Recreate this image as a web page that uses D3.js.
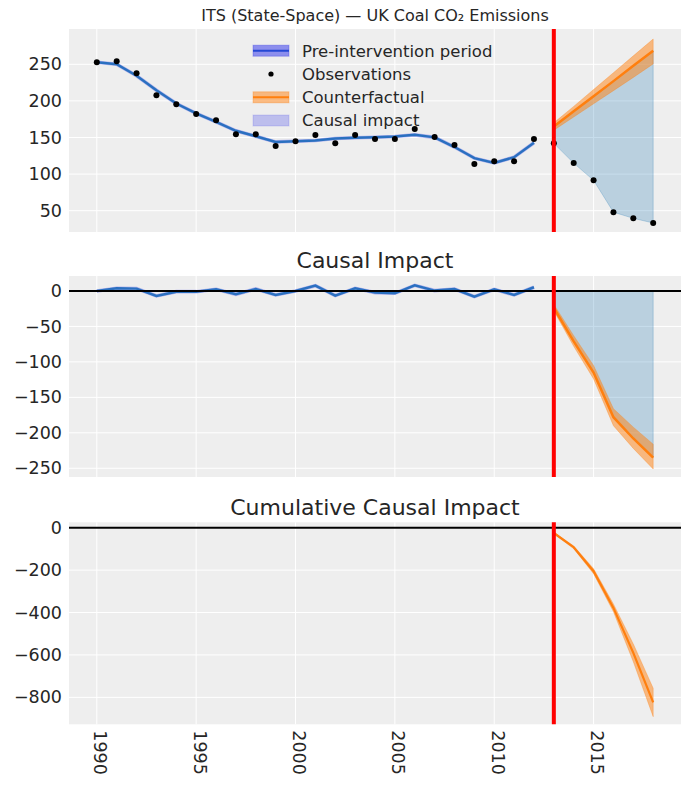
<!DOCTYPE html>
<html><head><meta charset="utf-8">
<script src="https://cdn.jsdelivr.net/npm/d3@7"></script>
<style>
body{margin:0;background:#fff}
svg{display:block}
text{font-family:"DejaVu Sans",sans-serif;fill:#262626}
</style>
</head><body>
<svg id="chart" width="690" height="789"></svg>
<script>
// ---------------- data ----------------
const years = [1990,1991,1992,1993,1994,1995,1996,1997,1998,1999,2000,2001,2002,2003,2004,2005,2006,2007,2008,2009,2010,2011,2012,2013,2014,2015,2016,2017,2018];
const observed = [252.7,254,237.7,207.6,195.4,182,173.5,154.4,154.4,138.4,144.8,153.4,142,153.4,148,148,161.6,150.7,139.8,113.8,117.5,117.5,148,142,115,91.5,48,39.6,33.2];
const preYears = [1990,1991,1992,1993,1994,1995,1996,1997,1998,1999,2000,2001,2002,2003,2004,2005,2006,2007,2008,2009,2010,2011,2012];
const preFit = [252.7,250.2,234.4,214.6,196.4,183,171.2,159.1,151.6,144,144.8,145.9,148.6,149.6,150.3,151.3,153.6,150.2,137,121.8,115.2,123.1,142.8];
const preImpact = [0,3.8,3.3,-7,-1,-1,2.3,-4.7,2.8,-5.6,0,7.5,-6.6,3.8,-2.3,-3.3,8,0.5,2.8,-8,2.3,-5.6,5.2];
const postYears = [2013,2014,2015,2016,2017,2018];
const postObserved = [142,115,91.5,48,39.6,33.2];
const cfMean = [165,186,206.5,227,248,268.5];
const cfLower = [160,178,196,214,232,250.5];
const cfUpper = [170,192.5,215.5,238.5,261.5,284.5];
const impactMean = [-24,-71,-115,-178,-208,-235];
const impactUpper = [-19,-63,-105,-166,-192,-216];
const impactLower = [-28,-78,-124,-190,-222,-251];
const cumMean = [-25,-92,-205,-378,-590,-824];
const cumUpper = [-21,-86,-193,-360,-548,-757];
const cumLower = [-29,-99,-217,-396,-632,-891];
const interventionYear = 2013;
const xTicks = [1990,1995,2000,2005,2010,2015];
const topTicks = [50,100,150,200,250];
const midTicks = [-250,-200,-150,-100,-50,0];
const cumTicks = [-800,-600,-400,-200,0];
const legendLabels = ["Pre-intervention period","Observations","Counterfactual","Causal impact"];
const titles = ["ITS (State-Space) \u2014 UK Coal CO\u2082 Emissions","Causal Impact","Cumulative Causal Impact"];

// ---------------- layout ----------------
const svg = d3.select("#chart");
const L = 69, R = 681;
const x = d3.scaleLinear().domain([1988.6, 2019.4]).range([L, R]);
const panels = [
  {top:29, bottom:232, y: d3.scaleLinear().domain([20.9, 298.2]).range([232, 29]), ticks: topTicks},
  {top:276, bottom:477, y: d3.scaleLinear().domain([-262.3, 21.1]).range([477, 276]), ticks: midTicks},
  {top:522.3, bottom:724.3, y: d3.scaleLinear().domain([-927, 25.5]).range([724.3, 522.3]), ticks: cumTicks}
];
const C0 = "#1f77b4", ORANGE = "#ff7f0e", PURPLE = "#2a2eec", LINEBLUE = "#2a70c0";
const fmt = d3.format("");

panels.forEach((p, i) => {
  const g = svg.append("g");
  g.append("rect").attr("x", L).attr("y", p.top).attr("width", R - L).attr("height", p.bottom - p.top).attr("fill", "#eeeeee");
  g.selectAll(".gx").data(xTicks).join("line")
    .attr("x1", d => x(d)).attr("x2", d => x(d)).attr("y1", p.top).attr("y2", p.bottom)
    .attr("stroke", "#fff").attr("stroke-width", 1);
  g.selectAll(".gy").data(p.ticks).join("line")
    .attr("x1", L).attr("x2", R).attr("y1", d => p.y(d)).attr("y2", d => p.y(d))
    .attr("stroke", "#fff").attr("stroke-width", 1);
  g.selectAll(".ty").data(p.ticks).join("text")
    .attr("x", 62).attr("y", d => p.y(d)).attr("dy", "0.35em")
    .attr("text-anchor", "end").attr("font-size", 17.5)
    .text(d => fmt(d));
  p.g = g;
});

// titles
svg.append("text").attr("x", (L + R) / 2).attr("y", 21).attr("text-anchor", "middle").attr("font-size", 16).text(titles[0]);
svg.append("text").attr("x", (L + R) / 2).attr("y", 268).attr("text-anchor", "middle").attr("font-size", 22).text(titles[1]);
svg.append("text").attr("x", (L + R) / 2).attr("y", 515).attr("text-anchor", "middle").attr("font-size", 22).text(titles[2]);

// x tick labels (bottom only, rotated)
svg.selectAll(".tx").data(xTicks).join("text")
  .attr("transform", d => `translate(${x(d)},${panels[2].bottom + 6}) rotate(90)`)
  .attr("dy", "0.15em").attr("text-anchor", "start").attr("font-size", 17.5)
  .text(d => fmt(d));

const post = postYears.map((yr, i) => ({yr, i}));
const pre = preYears.map((yr, i) => ({yr, i}));

// ---------- panel 1 ----------
{
  const p = panels[0], g = p.g, y = p.y;
  g.append("path").datum(post)
    .attr("d", d3.area().x(d => x(d.yr)).y0(d => y(postObserved[d.i])).y1(d => y(cfMean[d.i])))
    .attr("fill", C0).attr("fill-opacity", 0.25).attr("stroke", C0).attr("stroke-opacity", 0.25);
  g.append("path").datum(post)
    .attr("d", d3.area().x(d => x(d.yr)).y0(d => y(cfLower[d.i])).y1(d => y(cfUpper[d.i])))
    .attr("fill", ORANGE).attr("fill-opacity", 0.5).attr("stroke", ORANGE).attr("stroke-opacity", 0.3);
  g.append("path").datum(post)
    .attr("d", d3.line().x(d => x(d.yr)).y(d => y(cfMean[d.i])))
    .attr("fill", "none").attr("stroke", ORANGE).attr("stroke-width", 2.5);
  const preLine = d3.line().x(d => x(d.yr)).y(d => y(preFit[d.i]));
  g.append("path").datum(pre).attr("d", preLine).attr("fill", "none").attr("stroke", PURPLE).attr("stroke-opacity", 0.3).attr("stroke-width", 3.6);
  g.append("path").datum(pre).attr("d", preLine).attr("fill", "none").attr("stroke", LINEBLUE).attr("stroke-width", 2.5);
  g.selectAll(".obs").data(years).join("circle")
    .attr("cx", d => x(d)).attr("cy", (d, i) => y(observed[i])).attr("r", 3).attr("fill", "#000");
  g.append("line").attr("x1", x(interventionYear)).attr("x2", x(interventionYear)).attr("y1", p.top).attr("y2", p.bottom)
    .attr("stroke", "#ff0000").attr("stroke-width", 4);
  // legend
  const lg = svg.append("g");
  const rows = [50.7, 74, 97.3, 120.5];
  const hx0 = 253, hx1 = 289;
  lg.append("rect").attr("x", hx0).attr("y", rows[0] - 5.5).attr("width", hx1 - hx0).attr("height", 11).attr("fill", PURPLE).attr("fill-opacity", 0.5).attr("stroke", PURPLE).attr("stroke-opacity", 0.3);
  lg.append("line").attr("x1", hx0).attr("x2", hx1).attr("y1", rows[0]).attr("y2", rows[0]).attr("stroke", "#2447d4").attr("stroke-width", 2);
  lg.append("circle").attr("cx", (hx0 + hx1) / 2).attr("cy", rows[1]).attr("r", 2.6).attr("fill", "#000");
  lg.append("rect").attr("x", hx0).attr("y", rows[2] - 5.5).attr("width", hx1 - hx0).attr("height", 11).attr("fill", ORANGE).attr("fill-opacity", 0.5).attr("stroke", ORANGE).attr("stroke-opacity", 0.3);
  lg.append("line").attr("x1", hx0).attr("x2", hx1).attr("y1", rows[2]).attr("y2", rows[2]).attr("stroke", ORANGE).attr("stroke-width", 2);
  lg.append("rect").attr("x", hx0).attr("y", rows[3] - 5.5).attr("width", hx1 - hx0).attr("height", 11).attr("fill", PURPLE).attr("fill-opacity", 0.25).attr("stroke", PURPLE).attr("stroke-opacity", 0.15);
  lg.selectAll(".lt").data(legendLabels).join("text")
    .attr("x", 302).attr("y", (d, i) => rows[i]).attr("dy", "0.36em").attr("font-size", 16.5).text(d => d);
}

// ---------- panel 2 ----------
{
  const p = panels[1], g = p.g, y = p.y;
  g.append("path").datum(post)
    .attr("d", d3.area().x(d => x(d.yr)).y0(y(0)).y1(d => y(impactMean[d.i])))
    .attr("fill", C0).attr("fill-opacity", 0.25).attr("stroke", C0).attr("stroke-opacity", 0.25);
  g.append("path").datum(post)
    .attr("d", d3.area().x(d => x(d.yr)).y0(d => y(impactLower[d.i])).y1(d => y(impactUpper[d.i])))
    .attr("fill", ORANGE).attr("fill-opacity", 0.5).attr("stroke", ORANGE).attr("stroke-opacity", 0.3);
  g.append("path").datum(post)
    .attr("d", d3.line().x(d => x(d.yr)).y(d => y(impactMean[d.i])))
    .attr("fill", "none").attr("stroke", ORANGE).attr("stroke-width", 2.5);
  const preLine = d3.line().x(d => x(d.yr)).y(d => y(preImpact[d.i]));
  g.append("path").datum(pre).attr("d", preLine).attr("fill", "none").attr("stroke", PURPLE).attr("stroke-opacity", 0.3).attr("stroke-width", 3.6);
  g.append("path").datum(pre).attr("d", preLine).attr("fill", "none").attr("stroke", LINEBLUE).attr("stroke-width", 2.5);
  g.append("line").attr("x1", L).attr("x2", R).attr("y1", y(0)).attr("y2", y(0)).attr("stroke", "#000").attr("stroke-width", 2);
  g.append("line").attr("x1", x(interventionYear)).attr("x2", x(interventionYear)).attr("y1", p.top).attr("y2", p.bottom)
    .attr("stroke", "#ff0000").attr("stroke-width", 4);
}

// ---------- panel 3 ----------
{
  const p = panels[2], g = p.g, y = p.y;
  g.append("path").datum(post)
    .attr("d", d3.area().x(d => x(d.yr)).y0(d => y(cumLower[d.i])).y1(d => y(cumUpper[d.i])))
    .attr("fill", ORANGE).attr("fill-opacity", 0.5).attr("stroke", ORANGE).attr("stroke-opacity", 0.3);
  g.append("path").datum(post)
    .attr("d", d3.line().x(d => x(d.yr)).y(d => y(cumMean[d.i])))
    .attr("fill", "none").attr("stroke", ORANGE).attr("stroke-width", 2.2);
  g.append("line").attr("x1", L).attr("x2", R).attr("y1", y(0)).attr("y2", y(0)).attr("stroke", "#000").attr("stroke-width", 2);
  g.append("line").attr("x1", x(interventionYear)).attr("x2", x(interventionYear)).attr("y1", p.top).attr("y2", p.bottom)
    .attr("stroke", "#ff0000").attr("stroke-width", 4);
}
</script>
</body></html>
